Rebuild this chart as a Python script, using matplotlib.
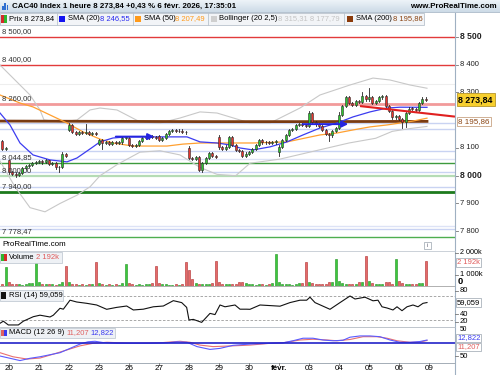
import matplotlib
matplotlib.use("Agg")
import matplotlib.pyplot as plt
import matplotlib.transforms as mtransforms
from matplotlib.patches import Rectangle
import numpy as np

plt.rcParams['font.family'] = ['Liberation Sans', 'DejaVu Sans']

# ---------------- data ----------------
day_labels = ['20', '21', '22', '23', '26', '27', '28', '29', '30', 'févr.', '03', '04', '05', '06', '09']

opens = [
    8125, 8096,
    8055, 8012, 8008, 8002, 8010, 8028, 8035, 8040, 8046,
    8050, 8052, 8048, 8055, 8042, 8045, 8030, 8032, 8080,
    8165, 8182, 8158, 8150, 8156, 8154, 8158, 8152, 8153,
    8115, 8128, 8118, 8120, 8116, 8122, 8118, 8120, 8136,
    8135, 8110, 8108, 8112, 8125, 8135, 8138, 8142, 8140,
    8142, 8130, 8135, 8150, 8162, 8165, 8160, 8163, 8158,
    8100, 8065, 8060, 8068, 8022, 8045, 8065, 8082, 8072,
    8140, 8102, 8098, 8105, 8140, 8110, 8092, 8088, 8072,
    8078, 8085, 8096, 8110, 8130, 8120, 8122, 8118, 8120,
    8085, 8105, 8128, 8148, 8165, 8168, 8182, 8185, 8183,
    8180, 8225, 8192, 8185, 8180, 8164, 8152, 8145, 8160,
    8172, 8220, 8250, 8282, 8262, 8255, 8268, 8265, 8288,
    8275, 8285, 8262, 8268, 8282, 8288, 8250, 8232, 8210,
    8215, 8205, 8192, 8225, 8242, 8240, 8236, 8262, 8278,
]
closes = [
    8098, 8100,
    8012, 8008, 8002, 8010, 8028, 8035, 8040, 8046, 8050,
    8052, 8048, 8055, 8042, 8045, 8030, 8032, 8080, 8072,
    8182, 8158, 8150, 8156, 8154, 8158, 8152, 8153, 8150,
    8128, 8118, 8120, 8116, 8122, 8118, 8120, 8136, 8140,
    8110, 8108, 8112, 8125, 8135, 8138, 8142, 8140, 8136,
    8130, 8135, 8150, 8162, 8165, 8160, 8163, 8158, 8156,
    8065, 8060, 8068, 8022, 8045, 8065, 8082, 8072, 8068,
    8102, 8098, 8105, 8140, 8110, 8092, 8088, 8072, 8080,
    8085, 8096, 8110, 8130, 8120, 8122, 8118, 8120, 8125,
    8105, 8128, 8148, 8165, 8168, 8182, 8185, 8183, 8178,
    8225, 8192, 8185, 8180, 8164, 8152, 8145, 8160, 8172,
    8220, 8250, 8282, 8262, 8255, 8268, 8265, 8288, 8275,
    8285, 8262, 8268, 8282, 8288, 8250, 8232, 8210, 8215,
    8205, 8192, 8225, 8242, 8240, 8236, 8262, 8278, 8273.84,
]
highs = [
    8130, 8104,
    8058, 8016, 8012, 8014, 8031, 8039, 8044, 8050, 8054,
    8057, 8056, 8060, 8058, 8049, 8048, 8036, 8084, 8083,
    8190, 8186, 8162, 8160, 8160, 8185, 8162, 8157, 8157,
    8132, 8131, 8124, 8124, 8126, 8126, 8124, 8140, 8144,
    8138, 8114, 8116, 8128, 8139, 8142, 8146, 8146, 8144,
    8146, 8139, 8153, 8166, 8169, 8169, 8167, 8167, 8162,
    8108, 8069, 8072, 8071, 8048, 8068, 8086, 8086, 8076,
    8148, 8106, 8109, 8144, 8143, 8113, 8096, 8091, 8084,
    8089, 8100, 8114, 8134, 8134, 8126, 8126, 8124, 8129,
    8112, 8131, 8152, 8169, 8172, 8186, 8189, 8189, 8187,
    8235, 8229, 8196, 8189, 8183, 8167, 8155, 8164, 8176,
    8228, 8254, 8286, 8286, 8266, 8272, 8272, 8300, 8292,
    8315, 8289, 8272, 8286, 8292, 8292, 8254, 8236, 8219,
    8219, 8209, 8229, 8246, 8246, 8244, 8266, 8282, 8285,
]
lows = [
    8094, 8092,
    8008, 8003, 7997, 7998, 8006, 8024, 8031, 8036, 8042,
    8046, 8044, 8045, 8038, 8038, 8026, 8015, 8029, 8068,
    8160, 8154, 8146, 8146, 8150, 8150, 8148, 8148, 8146,
    8111, 8097, 8114, 8112, 8112, 8114, 8114, 8116, 8132,
    8106, 8104, 8104, 8108, 8121, 8131, 8134, 8136, 8132,
    8126, 8126, 8131, 8146, 8158, 8156, 8156, 8154, 8152,
    8061, 8056, 8056, 8018, 8015, 8041, 8061, 8068, 8064,
    8098, 8094, 8094, 8101, 8106, 8088, 8084, 8068, 8068,
    8074, 8081, 8092, 8106, 8116, 8116, 8114, 8114, 8116,
    8072, 8101, 8124, 8144, 8161, 8164, 8178, 8179, 8174,
    8176, 8188, 8181, 8176, 8160, 8148, 8125, 8141, 8156,
    8168, 8216, 8246, 8258, 8251, 8251, 8261, 8261, 8271,
    8271, 8258, 8258, 8264, 8278, 8246, 8228, 8206, 8206,
    8201, 8172, 8175, 8221, 8236, 8232, 8232, 8258, 8270,
]
volumes_k = [
    170, 1640,
    380, 170, 150, 150, 120, 150, 230, 230, 2080,
    380, 200, 150, 170, 150, 130, 200, 380, 1780,
    380, 180, 150, 120, 150, 130, 150, 200, 2080,
    290, 180, 130, 150, 120, 150, 130, 250, 1930,
    250, 170, 130, 150, 120, 150, 200, 230, 1780,
    300, 180, 150, 120, 130, 150, 130, 200, 2080,
    1400, 650, 230, 200, 150, 200, 150, 250, 2190,
    380, 180, 150, 170, 150, 200, 380, 380, 250,
    200, 150, 130, 180, 150, 130, 170, 230, 2780,
    350, 200, 150, 170, 130, 200, 300, 300, 2080,
    380, 230, 180, 150, 200, 170, 380, 380, 2370,
    460, 250, 180, 170, 150, 200, 400, 400, 2630,
    460, 230, 180, 170, 200, 350, 330, 200, 2370,
    460, 250, 180, 170, 150, 200, 300, 300, 2192,
]

# indicator readings (candle index, value)
sma20_x = [-0.7, 2.3, 5.3, 9.2, 14.3, 19.4, 22.4, 27.2, 29.3, 33.2, 37.4, 46.4, 55.4, 59.3, 64.4,
           68.3, 71.3, 75.2, 80.3, 85.4, 90.2, 95.3, 100.4, 105.2, 110.3, 115.4, 119.3, 127.4]
sma20_v = [8226, 8183, 8118, 8075, 8057, 8050, 8064, 8104, 8122, 8136, 8140, 8140, 8140, 8122, 8118,
           8111, 8100, 8093, 8104, 8122, 8147, 8172, 8190, 8212, 8230, 8244, 8247, 8246.55]
sma50_x = [-0.7, 5.3, 9.2, 14.3, 19.4, 24.2, 29.3, 33.2, 39.2, 49.4, 54.2, 59.3, 68.3, 75.2, 85.4,
           95.3, 100.4, 105.2, 110.3, 115.4, 119.3, 123.2, 127.4]
sma50_v = [8291, 8262, 8248, 8219, 8190, 8158, 8132, 8118, 8107, 8107, 8114, 8118, 8118, 8118, 8122,
           8147, 8154, 8165, 8176, 8183, 8190, 8197, 8207.49]
sma200_x = [-0.7, 30, 60, 90, 127.4]
sma200_v = [8197, 8196, 8195, 8195, 8195.86]
boll_up_x = [-0.7, 3.8, 8.3, 11.3, 12.5, 17.3, 22.4, 26.3, 29.3, 34.4, 41.3, 47.3, 53.3, 59.3, 64.4,
             74.3, 80.3, 89.3, 95.3, 104.3, 111.2, 116.3, 122.3, 127.4]
boll_up_v = [8399, 8345, 8291, 8237, 8201, 8194, 8201, 8237, 8244, 8237, 8194, 8190, 8208, 8230, 8226,
             8190, 8190, 8244, 8291, 8327, 8352, 8345, 8327, 8315.31]
boll_lo_x = [-0.7, 3.8, 8.3, 12.8, 17.3, 22.4, 26.3, 29.3, 34.4, 41.3, 47.3, 53.3, 59.3, 64.4, 70.0,
             74.3, 83.3, 94.0, 104.0, 112.0, 117.0, 122.3, 127.4]
boll_lo_v = [8053, 7960, 7885, 7870, 7900, 7930, 7960, 8000, 8040, 8085, 8090, 8075, 8030, 8005, 8000,
             8045, 8060, 8090, 8118, 8135, 8160, 8170, 8177.79]

rsi_x = [-0.7, 0.3, 1.8, 4.8, 6.3, 9.3, 11.3, 14.3, 15.3, 17.3, 18.3, 20.3, 22.3, 25.3, 28.3, 31.3,
         34.3, 37.3, 39.3, 42.3, 45.3, 48.3, 51.3, 53.8, 55.3, 56.0, 57.3, 59.8, 62.3, 63.8, 65.3,
         66.8, 69.8, 71.3, 73.3, 74.3, 77.3, 80.3, 83.3, 86.3, 89.3, 91.3, 92.3, 93.8, 98.3, 101.3,
         104.3, 105.8, 108.8, 111.2, 112.7, 113.9, 115.4, 117.2, 118.4, 119.9, 121.4, 123.2, 124.7,
         126.2, 127.4]
rsi_v = [24.5, 28, 21.7, 21.7, 28, 35.5, 38, 35, 38, 49.5, 48, 63, 60, 57.8, 55, 47.8,
         51, 53.3, 46.7, 48, 52, 53.3, 62.2, 59, 51, 30, 31, 26, 41, 39, 55,
         52, 55, 48, 48, 47.8, 55, 54, 53, 59, 63, 63, 68, 59, 47.8, 59,
         70, 65, 68, 62, 63, 52, 50, 46.7, 52, 45.5, 52, 55, 52,
         57.8, 59.059]

macd_x = [-0.7, 2.3, 5.3, 8.3, 11.3, 14.3, 17.3, 20.3, 23.3, 25.7, 27.8, 30.2, 34.4, 44.3, 49.4,
          52.4, 55.4, 58.4, 62.3, 65.3, 69.2, 74.3, 80.3, 84.2, 87.2, 90.2, 93.2, 96.2, 99.2, 102.2,
          104.3, 107.3, 110.3, 113.3, 116.3, 119.3, 122.3, 125.3, 127.4]
macd_v = [-50, -59, -68, -59, -53, -45, -37, -20, -3, 6, 8, 3, 0, 0, 2,
          6, 4, -13, -24, -20, -8, -3, 0, 2, 10, 20, 20, 13, 10, 12,
          24, 29, 29, 26, 13, 4, 4, 7, 12.822]
signal_x = [-0.7, 3.2, 7.4, 11.3, 15.2, 19.4, 23.3, 27.2, 31.4, 39.3, 47.3, 53.3, 56.3, 59.3, 63.2,
            69.2, 74.3, 80.3, 84.2, 89.3, 93.2, 97.4, 100.4, 104.3, 108.2, 112.4, 115.4, 118.4,
            122.3, 125.3, 127.4]
signal_v = [-37, -53, -62, -58, -43, -26, -10, 0, 4, 0, 2, 8, 4, -7, -13,
            -10, -7, 0, 2, 13, 16, 13, 10, 15, 26, 26, 20, 10,
            4, 5, 11.207]

level_prices = [8500, 8400, 8260, 8329, 8189, 8167, 8090, 8060, 8044.85, 8015, 8000,
                7958, 7940, 7820, 7808, 7778.47]
level_labels = {8500: '8 500,00', 8400: '8 400,00', 8260: '8 260,00', 8044.85: '8 044,85',
                8000: '8 000,00', 7940: '7 940,00', 7778.47: '7 778,47'}
trend_x = [107.3, 135.8]
trend_v = [8251, 8213]
arrow1_x = [33.2, 46.4]
arrow1_v = 8141
arrow2_x = [89.3, 104.6]
arrow2_v = 8186

price_ticks = [8500, 8400, 8300, 8100, 8000, 7900, 7800]
price_tick_labels = ['8 500', '8 400', '8 300', '8 100', '8 000', '7 900', '7 800']

# ---------------- styles ----------------
level_styles = [('#e23b3b', 1.0), ('#e23b3b', 1.0), ('#f29a9a', 2.0), ('#eeeeee', 0.8),
                ('#c9d3f2', 1.0), ('#c9d3f2', 1.0), ('#c9d3f2', 1.0), ('#dde3f6', 1.0),
                ('#3d9a3d', 1.0), ('#c9d3f2', 1.0), ('#b5dcb5', 1.6),
                ('#c9d3f2', 1.0), ('#1d7a1d', 2.0), ('#dde3f6', 1.0), ('#c9d3f2', 1.0), ('#4fae4f', 1.0)]

GREEN = '#2fc42f'
RED = '#e8352f'
FS = 5.5

W, H = 500, 375
fig = plt.figure(figsize=(5, 3.75), dpi=100)
fig.patch.set_facecolor('white')


def add_ax(x0, y0, x1, y1, z=1):
    a = fig.add_axes([x0 / W, 1 - y1 / H, (x1 - x0) / W, (y1 - y0) / H], zorder=z)
    a.set_axis_off()
    return a


XL = (-0.7, 135.8)
N = len(closes)

# ---------------- main price panel ----------------
ax = add_ax(0, 26, 455, 240)
ax.set_xlim(*XL)
ax.set_ylim(7768.4, 8539.6)
ytr = ax.get_yaxis_transform()

for p, (c, lw) in zip(level_prices, level_styles):
    ax.axhline(p, color=c, lw=lw, zorder=1)
for p, lbl in level_labels.items():
    ax.annotate(lbl, xy=(0, p), xycoords=ytr, xytext=(2, 5.5), textcoords='offset pixels',
                va='center', ha='left', fontsize=FS, color='#333333', zorder=8)

ax.plot(boll_up_x, boll_up_v, color='#c8c8c8', lw=0.8, zorder=2)
ax.plot(boll_lo_x, boll_lo_v, color='#c8c8c8', lw=0.8, zorder=2)
ax.plot(sma200_x, sma200_v, color='#7a3b12', lw=2.0, zorder=3)
ax.plot(sma50_x, sma50_v, color='#ffa030', lw=0.9, zorder=3)
ax.plot(sma20_x, sma20_v, color='#3c3cf0', lw=0.9, zorder=3)

for i in range(N):
    o, h, l, c = opens[i], highs[i], lows[i], closes[i]
    col = GREEN if c >= o else RED
    ax.plot([i, i], [l, h], color='#222222', lw=0.6, zorder=5)
    b = min(o, c)
    hh = max(abs(c - o), 3.0)
    ax.add_patch(Rectangle((i - 0.34, b), 0.68, hh, facecolor=col, edgecolor='#2a2a2a', lw=0.4, zorder=6))

ax.plot(trend_x, trend_v, color='#e02020', lw=1.5, zorder=7, solid_capstyle='butt')
for xs, v in ((arrow1_x, arrow1_v), (arrow2_x, arrow2_v)):
    ax.annotate('', xy=(xs[1], v), xytext=(xs[0], v),
                arrowprops=dict(arrowstyle='-|>', color='#2424e0', lw=1.4, mutation_scale=9), zorder=7)

for p, lbl in zip(price_ticks, price_tick_labels):
    ax.plot([1, 1 + 3 / 455], [p, p], transform=ytr, color='#777777', lw=0.6, clip_on=False)
    bold = lbl in ('8 500', '8 000')
    ax.text(1 + 5 / 455, p, lbl, transform=ytr, va='center', ha='left', fontsize=6.2 if bold else FS,
            fontweight='bold' if bold else 'normal', color='#222222', clip_on=False)
ax.text(1 + 3.5 / 455, closes[-1], '8 273,84', transform=ytr, va='center', ha='left', fontsize=6.4,
        fontweight='bold', color='black', clip_on=False, zorder=9,
        bbox=dict(boxstyle='square,pad=0.2', fc='#f7cf2e', ec='#b8972a', lw=0.6))
ax.text(1 + 3.5 / 455, sma200_v[-1], '8 195,86', transform=ytr, va='center', ha='left', fontsize=FS + 0.3,
        color='#8b4513', clip_on=False, zorder=9,
        bbox=dict(boxstyle='square,pad=0.15', fc='white', ec='#c9a383', lw=0.6))

# ---------------- volume panel ----------------
axv = add_ax(0, 251, 455, 287)
axv.set_xlim(*XL)
axv.set_ylim(-80, 3070)
for i, v in enumerate(volumes_k):
    up = closes[i] >= opens[i]
    axv.add_patch(Rectangle((i - 0.32, 0), 0.64, v, facecolor='#3cc83c' if up else '#e46a6a',
                            edgecolor='#1f8f1f' if up else '#b02a2a', lw=0.4))
axv.axhline(0, color='#b0b0b0', lw=0.7)

# ---------------- RSI panel ----------------
axr = add_ax(0, 287, 455, 327)
axr.set_xlim(*XL)
axr.set_ylim(18.3, 85)
axr.axhline(70, color='#9a9a9a', lw=0.6, ls=(0, (3, 2)))
axr.axhline(30, color='#9a9a9a', lw=0.6, ls=(0, (3, 2)))
axr.plot(rsi_x, rsi_v, color='#111111', lw=0.8)

# ---------------- MACD panel ----------------
axm = add_ax(0, 327, 455, 362)
axm.set_xlim(*XL)
axm.set_ylim(-73.6, 64.2)
axm.plot(signal_x, signal_v, color='#e87070', lw=0.8)
axm.plot(macd_x, macd_v, color='#5a5aff', lw=0.8)
axm.axhline(0, color='#2323c8', lw=1.2)

# ---------------- overlay in pixel coordinates ----------------
ov = fig.add_axes([0, 0, 1, 1], zorder=10)
ov.set_axis_off()
grad = np.linspace(0, 1, 20).reshape(-1, 1)
ov.imshow(grad, extent=[0, 500, 12, 0], aspect='auto',
          cmap=matplotlib.colors.LinearSegmentedColormap.from_list('g', ['#edf3f8', '#cddbe7']))
ov.set_xlim(0, 500)
ov.set_ylim(375, 0)


def T(x, y, s, **kw):
    kw.setdefault('fontsize', FS)
    kw.setdefault('va', 'center')
    kw.setdefault('ha', 'left')
    return ov.text(x, y, s, **kw)


def R(x0, y0, x1, y1, **kw):
    ov.add_patch(Rectangle((x0, y0), x1 - x0, y1 - y0, **kw))


BOX = dict(boxstyle='square,pad=0.12', fc='white', ec='#9aa4ae', lw=0.5)

ov.plot([0, 500], [12.3, 12.3], color='#a8b8c8', lw=0.6)
for k, hgt in enumerate([4, 7, 5]):
    R(2 + k * 2.3, 10 - hgt, 3.6 + k * 2.3, 10, facecolor='#2f6fd0', lw=0)
T(12, 6.3, 'CAC40 Index 1 heure 8 273,84 +0,43 % 6 févr. 2026, 17:35:01', fontweight='bold', fontsize=5.7)
T(497, 6.3, 'www.ProRealTime.com', ha='right', fontweight='bold', fontsize=5.7)

# legend row
R(0, 13, 424, 24.5, facecolor='#f2f4f7', edgecolor='#b9c3cd', lw=0.6)
for xs in (57, 133, 208, 344):
    ov.plot([xs, xs], [13, 24.5], color='#b9c3cd', lw=0.6)
R(1, 15, 3.5, 23, facecolor='#d42a2a', lw=0)
R(3.5, 15, 6.5, 23, facecolor='#2fb52f', lw=0)
T(9, 19, 'Prix 8 273,84')
R(59, 16, 65, 22, facecolor='#1414f0', lw=0)
T(68, 19, 'SMA (20)')
T(100, 19, '8 246,55', color='#2a2af0')
R(135, 16, 141, 22, facecolor='#ff9a1a', lw=0)
T(144, 19, 'SMA (50)')
T(175, 19, '8 207,49', color='#ff9a1a')
R(211, 16, 217, 22, facecolor='#cfcfcf', lw=0)
T(219, 19, 'Bollinger (20 2,5)')
T(278, 19, '8 315,31 8 177,79', color='#c4c4c4')
R(347, 16, 353, 22, facecolor='#8b3a0a', lw=0)
T(356, 19, 'SMA (200)')
T(393, 19, '8 195,86', color='#8b4513')

# axes lines
ov.plot([455, 455], [13, 375], color='#9fb0c2', lw=0.8)
ov.plot([0, 455], [250.5, 250.5], color='#c3cad2', lw=0.6)
ov.plot([0, 455], [327.2, 327.2], color='#b4bcc4', lw=0.6)
ov.plot([0, 455], [362.5, 362.5], color='#a4adb6', lw=0.7)

T(2, 244.5, 'ProRealTime.com', fontsize=5.8)
R(424, 242, 431, 249, facecolor='white', edgecolor='#9aa4ae', lw=0.5)
T(427.5, 245.5, 'i', ha='center', fontsize=4.5, color='#667')

# volume legend + right labels
R(0, 252, 62, 262.5, facecolor='#eef1f5', edgecolor='#b9c3cd', lw=0.5)
R(1, 254, 3.5, 261, facecolor='#2fb52f', lw=0)
R(3.5, 254, 6.5, 261, facecolor='#d42a2a', lw=0)
T(9, 257.3, 'Volume')
T(36, 257.3, '2 192k', color='#e05a5a')
ov.plot([455, 458], [252.5, 252.5], color='#777', lw=0.6)
T(460, 252.3, '2 000k', fontsize=5.2)
T(457, 262.3, '2 192k', color='#e05a5a', bbox=BOX)
ov.plot([455, 458], [274.6, 274.6], color='#777', lw=0.6)
T(460, 274.6, '1 000k')
T(458, 281.8, '0', fontweight='bold', fontsize=6.8)

# RSI legend + right labels
R(0, 290, 63, 300.5, facecolor='#eef1f5', edgecolor='#b9c3cd', lw=0.5)
R(1, 292, 6, 298.5, facecolor='#111111', lw=0)
T(9, 295.3, 'RSI (14) 59,059')
for yy, lbl in ((290.5, '80'), (314, '40'), (321.8, '20')):
    ov.plot([455, 458], [yy, yy], color='#777', lw=0.6)
    T(460, yy, lbl)
T(457, 302.6, '59,059', bbox=BOX)

# MACD legend + right labels
R(0, 327.5, 115, 337.5, facecolor='#eef1f5', edgecolor='#b9c3cd', lw=0.5)
R(1, 329.5, 3.5, 336, facecolor='#e06060', lw=0)
R(3.5, 329.5, 6.5, 336, facecolor='#3a3af0', lw=0)
T(9, 332.5, 'MACD (12 26 9)')
T(66, 332.5, '11,207', color='#e06060')
T(90, 332.5, '12,822', color='#3a3af0')
T(460, 329.6, '50', fontsize=4.8)
T(457, 338.0, '12,822', color='#3a3af0', bbox=BOX)
T(457, 347.0, '11,207', color='#e06060', bbox=BOX)
ov.plot([455, 458], [356, 356], color='#777', lw=0.6)
T(460, 356, '50')

# x axis labels (positions through the MACD axis' x scale)
xtr = mtransforms.blended_transform_factory(axm.transData, ov.transData)
for k, lbl in enumerate(day_labels):
    xi = 2 + 9 * k
    ov.plot([xi, xi], [362.5, 365], transform=xtr, color='#777', lw=0.6, clip_on=False)
    ov.text(xi, 369, lbl, transform=xtr, ha='center', va='center', fontsize=FS + 0.3,
            fontweight='bold' if lbl == 'févr.' else 'normal', clip_on=False)

fig.savefig('out.png', dpi=100, facecolor='white')
